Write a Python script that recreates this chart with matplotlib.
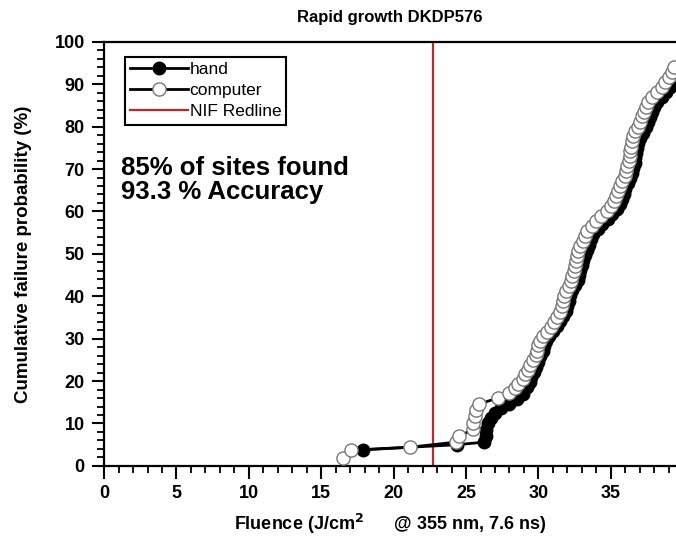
import matplotlib
matplotlib.use("Agg")
import matplotlib.pyplot as plt
from matplotlib.ticker import MultipleLocator

plt.rcParams["font.family"] = ["Liberation Sans", "DejaVu Sans"]

# hand-found sites: fluence (J/cm2), cumulative failure probability (%)
hand_x = [17.9, 24.4, 26.25, 26.35, 26.4, 26.5, 26.7, 27.0, 27.4, 28.0, 28.5, 28.9,
          29.2, 29.4, 29.5, 29.7, 29.8, 30.0, 30.1, 30.3, 30.4, 30.5, 30.7, 31.0,
          31.3, 31.5, 31.7, 31.9, 32.0, 32.1, 32.2, 32.3, 32.5, 32.7, 32.8, 32.9,
          33.0, 33.1, 33.2, 33.35, 33.5, 33.65, 33.8, 34.1, 34.4, 34.8, 35.1, 35.4,
          35.6, 35.75, 35.9, 36.0, 36.2, 36.35, 36.45, 36.55, 36.65, 36.7, 36.75,
          36.8, 36.9, 37.0, 37.2, 37.4, 37.55, 37.7, 37.85, 38.0, 38.2, 38.5, 38.8,
          39.1, 39.4]
hand_y = [3.8, 5.0, 5.6, 7.0, 8.5, 10.0, 11.2, 12.5, 13.6, 14.5, 15.8, 17.0,
          18.5, 19.8, 21.0, 22.2, 23.4, 24.6, 25.8, 27.0, 28.2, 29.4, 30.6, 31.8,
          33.0, 34.2, 35.4, 36.6, 37.8, 39.0, 40.2, 41.4, 42.6, 43.8, 45.0, 46.2,
          47.4, 48.6, 49.8, 51.0, 52.2, 53.4, 54.6, 55.8, 57.0, 58.2, 59.4, 60.6,
          61.8, 63.0, 64.2, 65.4, 66.6, 67.8, 69.0, 70.2, 71.4, 72.6, 73.8,
          75.0, 76.2, 77.4, 78.6, 79.8, 81.0, 82.2, 83.4, 84.6, 85.8, 87.0, 88.2,
          89.4, 90.6]

# computer-found sites
comp_x = [16.5, 17.05, 21.1, 24.3, 24.5, 25.5, 25.5, 25.6, 25.7, 25.9, 27.2, 28.0,
          28.4, 28.6, 28.9, 29.1, 29.3, 29.4, 29.6, 29.8, 29.9, 30.0, 30.1, 30.3,
          30.6, 30.9, 31.1, 31.3, 31.5, 31.6, 31.7, 31.75, 31.9, 32.1, 32.25, 32.3,
          32.45, 32.55, 32.6, 32.65, 32.7, 32.9, 33.1, 33.2, 33.35, 33.7, 34.0, 34.3,
          34.7, 35.0, 35.2, 35.35, 35.5, 35.65, 35.8, 35.95, 36.05, 36.15, 36.25,
          36.3, 36.35, 36.4, 36.45, 36.55, 36.7, 36.85, 37.0, 37.15, 37.3, 37.45,
          37.6, 37.85, 38.2, 38.5, 38.75, 39.0, 39.2, 39.35]
comp_y = [1.9, 3.7, 4.4, 5.6, 7.0, 8.6, 10.2, 11.8, 13.2, 14.6, 16.0, 17.2,
          18.3, 19.3, 20.4, 21.6, 22.7, 23.8, 25.0, 26.1, 27.2, 28.4, 29.5, 30.6,
          31.5, 32.8, 34.0, 35.2, 36.4, 37.6, 38.8, 40.0, 41.2, 42.4, 43.6, 44.7,
          45.9, 47.1, 48.2, 49.4, 50.6, 51.8, 53.0, 54.1, 55.3, 56.5, 57.7, 58.9,
          60.1, 61.2, 62.4, 63.6, 64.8, 65.9, 67.1, 68.3, 69.5, 70.7, 71.8,
          73.0, 74.2, 75.3, 76.5, 77.7, 78.9, 80.0, 81.2, 82.4, 83.5, 84.7,
          85.9, 87.1, 88.2, 89.4, 90.6, 91.7, 92.9, 94.1]

redline = 22.7

fig = plt.figure(figsize=(6.76, 5.43), dpi=100)
ax = fig.add_axes([0.154, 0.142, 0.846, 0.781])

ax.plot(hand_x, hand_y, "-o", color="black", lw=2, ms=9, mfc="black", mec="black",
        label="hand", zorder=3)
ax.plot(comp_x, comp_y, "-o", color="black", lw=2, ms=9.5, mfc="white", mec="#777777",
        mew=1, label="computer", zorder=4)
ax.axvline(redline, color="#c0262a", lw=1.6, label="NIF Redline", zorder=2)

ax.set_xlim(0, 39.5)
ax.set_ylim(0, 100)
ax.xaxis.set_major_locator(MultipleLocator(5))
ax.xaxis.set_minor_locator(MultipleLocator(1))
ax.yaxis.set_major_locator(MultipleLocator(10))
ax.yaxis.set_minor_locator(MultipleLocator(2))
ax.tick_params(which="major", direction="out", length=9, width=1.5, labelsize=13, pad=5)
ax.tick_params(which="minor", direction="out", length=5, width=1.3)
for lab in ax.get_xticklabels() + ax.get_yticklabels():
    lab.set_fontweight("bold")
ax.spines["right"].set_visible(False)
for s in ["left", "bottom", "top"]:
    ax.spines[s].set_linewidth(1.6)

ax.set_title("Rapid growth DKDP576", fontsize=12, fontweight="bold", pad=14)
ax.set_ylabel("Cumulative failure probability (%)", fontsize=13.5, fontweight="bold",
              labelpad=16)
ax.set_xlabel("Fluence (J/cm$^\\mathbf{2}$      @ 355 nm, 7.6 ns)", fontsize=13,
              fontweight="bold", labelpad=7)

ax.text(0.03, 0.73, "85% of sites found\n93.3 % Accuracy", transform=ax.transAxes,
        fontsize=18.5, fontweight="bold", va="top", linespacing=1.0)

leg = ax.legend(loc="upper left", bbox_to_anchor=(0.037, 0.965), fontsize=12.5,
                frameon=True, fancybox=False, edgecolor="black", framealpha=1,
                handlelength=3.3, handletextpad=0.1, borderpad=0.3,
                labelspacing=0.35, borderaxespad=0)
leg.get_frame().set_linewidth(1.5)

fig.savefig("out.png", dpi=100)
